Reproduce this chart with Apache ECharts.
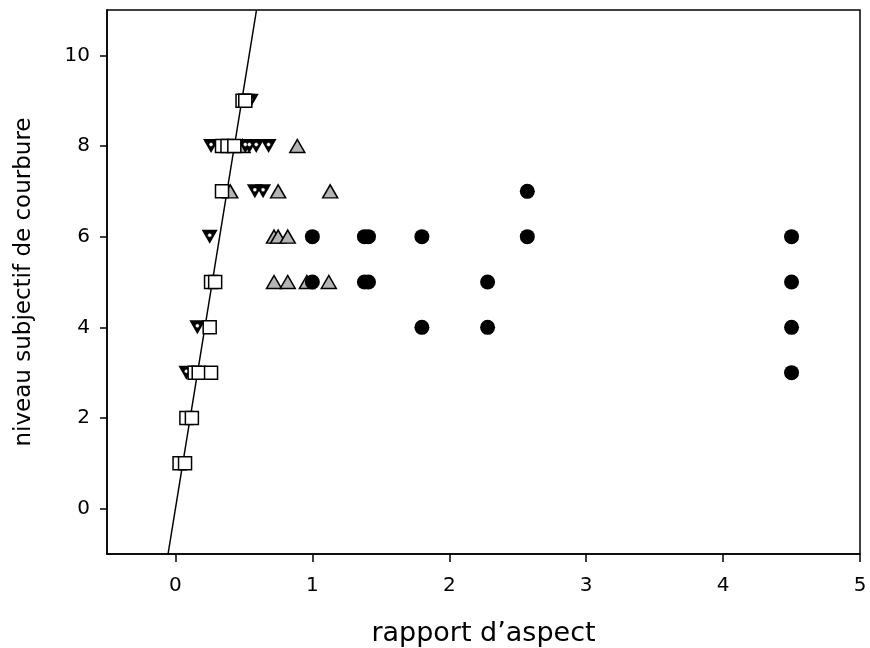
<!DOCTYPE html>
<html>
<head>
<meta charset="utf-8">
<script src="https://cdn.jsdelivr.net/npm/echarts@6/dist/echarts.min.js"></script>
<style>html,body{margin:0;padding:0;background:#fff;}#c{width:870px;height:648px;}</style>
</head>
<body>
<div id="c"></div>
<script>
// Data: [aspect ratio, subjective curvature level]
const squares = [[0.03,1],[0.07,1],[0.08,2],[0.12,2],[0.14,3],[0.17,3],[0.26,3],[0.25,4],[0.26,5],[0.29,5],[0.34,7],[0.34,8],[0.38,8],[0.43,8],[0.49,9],[0.51,9]];
const downTriangles = [[0.08,3],[0.16,4],[0.25,6],[0.58,7],[0.64,7],[0.26,8],[0.51,8],[0.54,8],[0.59,8],[0.68,8],[0.52,9],[0.55,9]];
const grayTriangles = [[0.72,5],[0.82,5],[0.96,5],[1.12,5],[0.72,6],[0.75,6],[0.82,6],[0.40,7],[0.75,7],[1.13,7],[0.49,8],[0.89,8]];
const circles = [[4.5,3],[1.8,4],[2.28,4],[4.5,4],[1.0,5],[1.38,5],[1.41,5],[2.28,5],[4.5,5],[1.0,6],[1.38,6],[1.41,6],[1.8,6],[2.57,6],[4.5,6],[2.57,7]];
const fitLine = [[-0.054,-1],[0.592,11]];
const xTicks = [0,1,2,3,4,5];
const yTicks = [0,2,4,6,8,10];

const font = '"DejaVu Sans", sans-serif';
const chart = echarts.init(document.getElementById('c'), null, {renderer:'canvas'});
chart.setOption({
  animation: false,
  backgroundColor: '#fff',
  grid: {left:107, right:10, top:10, bottom:94, show:true, borderColor:'#000', borderWidth:1.5, backgroundColor:'transparent', containLabel:false, outerBoundsMode:'none'},
  xAxis: {
    type:'value', min:-0.5, max:5,
    name:"rapport d\u2019aspect", nameLocation:'middle', nameGap:66,
    nameTextStyle:{fontFamily:font, fontSize:27, color:'#000'},
    axisLine:{show:true, onZero:false, lineStyle:{color:'#000', width:1.5}},
    axisTick:{show:true, customValues:xTicks, length:8, lineStyle:{color:'#000', width:1.5}},
    axisLabel:{customValues:xTicks, margin:22, fontFamily:font, fontSize:20, color:'#000'},
    splitLine:{show:false}
  },
  yAxis: {
    type:'value', min:-1, max:11,
    name:'niveau subjectif de courbure', nameLocation:'middle', nameGap:71,
    nameTextStyle:{fontFamily:font, fontSize:23, color:'#000'},
    axisLine:{show:true, onZero:false, lineStyle:{color:'#000', width:1.5}},
    axisTick:{show:true, customValues:yTicks, length:7, lineStyle:{color:'#000', width:1.5}},
    axisLabel:{customValues:yTicks, margin:17, fontFamily:font, fontSize:20, color:'#000'},
    splitLine:{show:false}
  },
  series: [
    {type:'line', data:fitLine, showSymbol:false, symbol:'none', lineStyle:{color:'#000', width:1.5}, z:1, silent:true},
    {type:'scatter', data:grayTriangles, symbol:'triangle', symbolSize:[15,13], itemStyle:{color:'#b4b4b4', borderColor:'#000', borderWidth:1.5, opacity:1}, z:2},
    {type:'scatter', data:downTriangles, symbol:'triangle', symbolRotate:180, symbolSize:[16,14], itemStyle:{color:'#000', opacity:1}, z:3},
    {type:'scatter', data:downTriangles, symbol:'circle', symbolSize:4, symbolOffset:[0,-1.5], itemStyle:{color:'#fff', borderColor:'#000', borderWidth:0.5, opacity:1}, z:4},
    {type:'scatter', data:squares, symbol:'rect', symbolSize:13, itemStyle:{color:'#fff', borderColor:'#000', borderWidth:1.5, opacity:1}, z:5},
    {type:'scatter', data:circles, symbol:'circle', symbolSize:15, itemStyle:{color:'#000', opacity:1}, z:6}
  ]
});
</script>
</body>
</html>
